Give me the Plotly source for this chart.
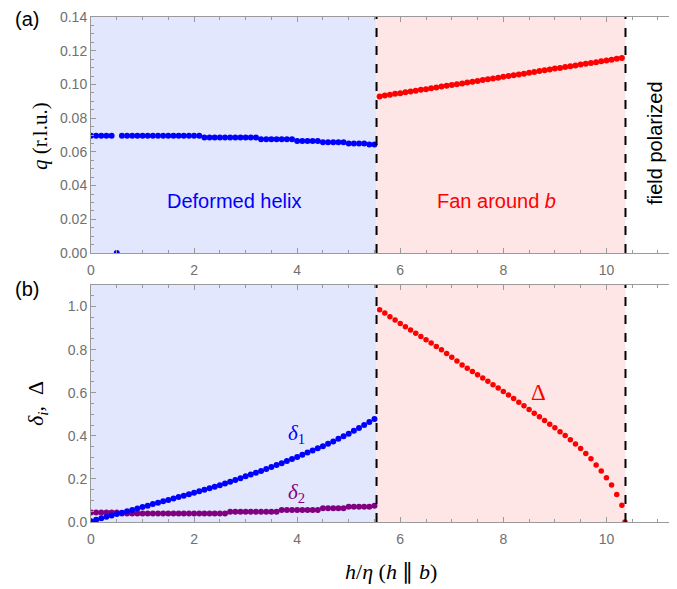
import plotly.graph_objects as go

# ---------------- data ----------------
h_left = [0.0, 0.1, 0.2, 0.3, 0.4, 0.5, 0.6, 0.7, 0.8, 0.9,
          1.0, 1.1, 1.2, 1.3, 1.4, 1.5, 1.6, 1.7, 1.8, 1.9,
          2.0, 2.1, 2.2, 2.3, 2.4, 2.5, 2.6, 2.7, 2.8, 2.9,
          3.0, 3.1, 3.2, 3.3, 3.4, 3.5, 3.6, 3.7, 3.8, 3.9,
          4.0, 4.1, 4.2, 4.3, 4.4, 4.5, 4.6, 4.7, 4.8, 4.9,
          5.0, 5.1, 5.2, 5.3, 5.4, 5.5]

q_helix = [0.0696, 0.0696, 0.0696, 0.0696, 0.0696, 0.0000, 0.0696, 0.0696, 0.0696, 0.0696,
           0.0696, 0.0696, 0.0696, 0.0696, 0.0696, 0.0696, 0.0696, 0.0696, 0.0696, 0.0696,
           0.0696, 0.0696, 0.0685, 0.0685, 0.0685, 0.0685, 0.0685, 0.0685, 0.0685, 0.0685,
           0.0685, 0.0685, 0.0685, 0.0675, 0.0675, 0.0675, 0.0675, 0.0675, 0.0675, 0.0675,
           0.0665, 0.0665, 0.0665, 0.0665, 0.0665, 0.0657, 0.0657, 0.0657, 0.0657, 0.0657,
           0.0650, 0.0650, 0.0650, 0.0650, 0.0643, 0.0643]

delta1 = [0.004, 0.010, 0.017, 0.024, 0.030, 0.037, 0.043, 0.050, 0.056, 0.063,
          0.070, 0.076, 0.083, 0.089, 0.096, 0.102, 0.109, 0.116, 0.122, 0.129,
          0.136, 0.143, 0.150, 0.157, 0.164, 0.171, 0.179, 0.187, 0.195, 0.203,
          0.212, 0.220, 0.229, 0.237, 0.246, 0.255, 0.264, 0.273, 0.283, 0.292,
          0.302, 0.312, 0.322, 0.332, 0.342, 0.352, 0.363, 0.374, 0.386, 0.398,
          0.410, 0.423, 0.436, 0.450, 0.464, 0.478]

delta2 = [0.044, 0.044, 0.044, 0.044, 0.044, 0.044, 0.040, 0.040, 0.040, 0.040,
          0.040, 0.040, 0.040, 0.040, 0.040, 0.040, 0.040, 0.040, 0.040, 0.040,
          0.040, 0.040, 0.040, 0.040, 0.040, 0.040, 0.040, 0.047, 0.047, 0.047,
          0.047, 0.047, 0.047, 0.047, 0.047, 0.047, 0.047, 0.056, 0.056, 0.056,
          0.056, 0.056, 0.056, 0.056, 0.056, 0.064, 0.064, 0.064, 0.064, 0.064,
          0.071, 0.071, 0.071, 0.071, 0.071, 0.075]

h_right = [5.6, 5.7, 5.8, 5.9, 6.0, 6.1, 6.2, 6.3, 6.4, 6.5,
           6.6, 6.7, 6.8, 6.9, 7.0, 7.1, 7.2, 7.3, 7.4, 7.5,
           7.6, 7.7, 7.8, 7.9, 8.0, 8.1, 8.2, 8.3, 8.4, 8.5,
           8.6, 8.7, 8.8, 8.9, 9.0, 9.1, 9.2, 9.3, 9.4, 9.5,
           9.6, 9.7, 9.8, 9.9, 10.0, 10.1, 10.2, 10.3]

q_fan = [0.0929, 0.0934, 0.0939, 0.0944, 0.0948, 0.0953, 0.0958, 0.0963, 0.0968, 0.0972,
         0.0977, 0.0982, 0.0987, 0.0992, 0.0997, 0.1001, 0.1006, 0.1011, 0.1016, 0.1021,
         0.1026, 0.1030, 0.1035, 0.1040, 0.1045, 0.1050, 0.1055, 0.1059, 0.1064, 0.1069,
         0.1074, 0.1079, 0.1084, 0.1089, 0.1094, 0.1098, 0.1103, 0.1108, 0.1113, 0.1118,
         0.1123, 0.1127, 0.1132, 0.1137, 0.1142, 0.1147, 0.1152, 0.1157]

h_gap = [5.6, 5.7, 5.8, 5.9, 6.0, 6.1, 6.2, 6.3, 6.4, 6.5,
         6.6, 6.7, 6.8, 6.9, 7.0, 7.1, 7.2, 7.3, 7.4, 7.5,
         7.6, 7.7, 7.8, 7.9, 8.0, 8.1, 8.2, 8.3, 8.4, 8.5,
         8.6, 8.7, 8.8, 8.9, 9.0, 9.1, 9.2, 9.3, 9.4, 9.5,
         9.6, 9.7, 9.8, 9.9, 10.0, 10.1, 10.2, 10.3, 10.36]

gap_delta = [0.985, 0.970, 0.953, 0.937, 0.921, 0.906, 0.891, 0.876, 0.861, 0.846,
             0.831, 0.815, 0.799, 0.782, 0.765, 0.747, 0.729, 0.714, 0.699, 0.684,
             0.668, 0.653, 0.637, 0.622, 0.606, 0.590, 0.573, 0.556, 0.539, 0.522,
             0.505, 0.488, 0.471, 0.454, 0.437, 0.419, 0.401, 0.382, 0.362, 0.341,
             0.318, 0.293, 0.265, 0.237, 0.205, 0.172, 0.128, 0.078, 0.000]

h_transitions = [5.54, 10.37]
x_ticks = [0, 2, 4, 6, 8, 10]

# ---------------- styling ----------------
BLUE = "#0000ff"
PURPLE = "#800080"
RED = "#ff0000"
SHADE_BLUE = "#e2e7fd"
SHADE_RED = "#ffe6e6"
FRAME = "#9a9a9a"
TICKTXT = "#707070"
SANS = "Liberation Sans, Arial, sans-serif"
SERIF = "Liberation Serif, Times New Roman, serif"

fig = go.Figure()

def dots(x, y, color, xa, ya, size=6):
    fig.add_trace(go.Scatter(x=x, y=y, mode="markers", xaxis=xa, yaxis=ya,
                             marker=dict(color=color, size=size, line=dict(width=0)),
                             showlegend=False, hoverinfo="skip"))

# top panel (q)
dots(h_left, q_helix, BLUE, "x2", "y2")
dots(h_right, q_fan, RED, "x2", "y2")
# bottom panel (gaps)
dots(h_left, delta2, PURPLE, "x", "y")
dots(h_left, delta1, BLUE, "x", "y")
dots(h_gap, gap_delta, RED, "x", "y", size=5.5)

shapes = []
for xa, ya in (("x", "y"), ("x2", "y2")):
    shapes.append(dict(type="rect", xref=xa, yref=ya + " domain", x0=0, x1=h_transitions[0],
                       y0=0, y1=1, fillcolor=SHADE_BLUE, line=dict(width=0), layer="below"))
    shapes.append(dict(type="rect", xref=xa, yref=ya + " domain", x0=h_transitions[0],
                       x1=h_transitions[1], y0=0, y1=1, fillcolor=SHADE_RED,
                       line=dict(width=0), layer="below"))
    for xt in h_transitions:
        shapes.append(dict(type="line", xref=xa, yref=ya + " domain", x0=xt, x1=xt,
                           y0=0, y1=1, line=dict(color="black", width=2, dash="dash")))

def xaxis_style(anchor):
    return dict(range=[0, 11.35], anchor=anchor, tickvals=x_ticks, ticks="inside",
                ticklen=5, tickcolor=FRAME, tickwidth=1,
                minor=dict(dtick=0.5, ticks="inside", ticklen=3, tickcolor=FRAME),
                showline=True, linecolor=FRAME, linewidth=1, mirror="ticks",
                showgrid=False, zeroline=False,
                tickfont=dict(family=SANS, size=14, color=TICKTXT),
                ticklabelstandoff=4)

def yaxis_style(rng, dt, mdt, fmt, dom):
    return dict(range=rng, domain=dom, dtick=dt, tick0=0, tickformat=fmt,
                ticks="inside", ticklen=5, tickcolor=FRAME, tickwidth=1,
                minor=dict(dtick=mdt, ticks="inside", ticklen=3, tickcolor=FRAME),
                showline=True, linecolor=FRAME, linewidth=1, mirror="ticks",
                showgrid=False, zeroline=False,
                tickfont=dict(family=SANS, size=14, color=TICKTXT))

ann = []
def text(x, y, s, size, color="black", family=SANS, xref="paper", yref="paper", angle=0):
    ann.append(dict(x=x, y=y, xref=xref, yref=yref, text=s, showarrow=False,
                    font=dict(family=family, size=size, color=color), textangle=angle,
                    xanchor="center", yanchor="middle"))

text(2.78, 0.031, "Deformed helix", 20, BLUE, xref="x2", yref="y2")
text(7.87, 0.031, "Fan around <i>b</i>", 20, RED, xref="x2", yref="y2")
text(10.95, 0.065, "field polarized", 20, "black", xref="x2", yref="y2", angle=-90)
text(3.98, 0.41, "<i>δ</i><sub>1</sub>", 21, BLUE, SERIF, xref="x", yref="y")
text(3.98, 0.135, "<i>δ</i><sub>2</sub>", 21, PURPLE, SERIF, xref="x", yref="y")
text(8.68, 0.60, "Δ", 23, RED, SERIF, xref="x", yref="y")

# axis titles & panel labels, given in window pixels
# (plot area spans window px x 91..676 and y 17..522; the page body adds an 8px offset)
def px_x(p):
    return (p - 91) / 585.0
def px_y(p):
    return (522 - p) / 505.0

text(px_x(40), px_y(136), "<i>q</i> (r.l.u.)", 21, "black", SERIF, angle=-90)
text(px_x(37), px_y(404), "<i>δ<sub>i</sub></i>,  Δ", 22, "black", SERIF, angle=-90)
text(px_x(391), px_y(571), "<i>h</i>/<i>η</i> (<i>h</i> ∥ <i>b</i>)", 22, "black", SERIF)
text(px_x(27), px_y(19), "(a)", 20)
text(px_x(27), px_y(289), "(b)", 20)

fig.update_layout(
    width=669, height=581,
    margin=dict(l=83, r=1, t=9, b=67),
    paper_bgcolor="white", plot_bgcolor="white",
    xaxis=xaxis_style("y"),
    xaxis2=xaxis_style("y2"),
    yaxis=yaxis_style([0, 1.1], 0.2, 0.05, ".1f", [0, px_y(285)]),
    yaxis2=yaxis_style([0, 0.14], 0.02, 0.005, ".2f", [px_y(253), 1]),
    shapes=shapes, annotations=ann,
)

fig.write_html("out.html")
